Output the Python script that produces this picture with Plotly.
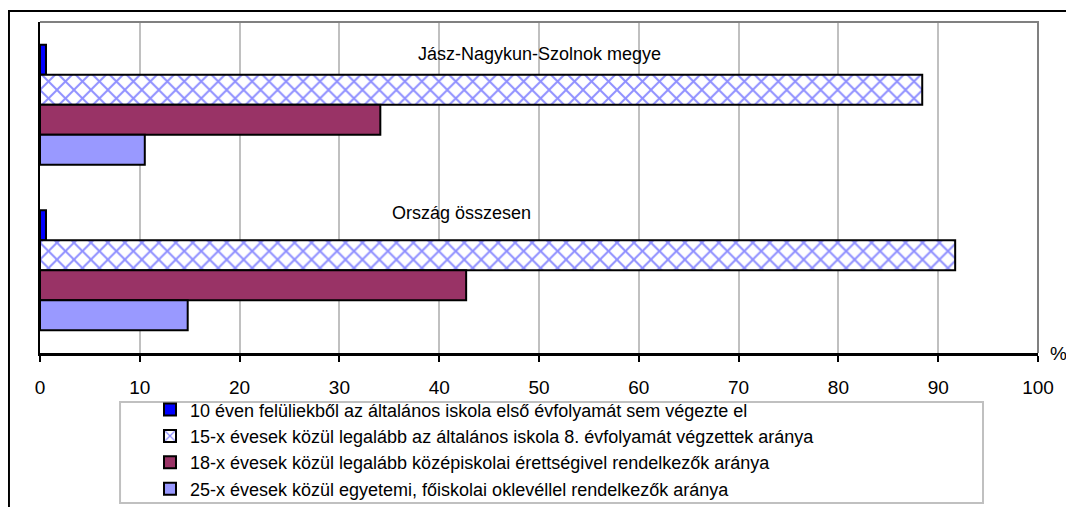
import plotly.graph_objects as go

# group labels (top to bottom)
categories = ["Jász-Nagykun-Szolnok megye", "Ország összesen"]

series_names = [
    "10 éven felüliekből az általános iskola első évfolyamát sem végezte el",
    "15-x évesek közül legalább az általános iskola 8. évfolyamát végzettek aránya",
    "18-x évesek közül legalább középiskolai érettségivel rendelkezők aránya",
    "25-x évesek közül egyetemi, főiskolai oklevéllel rendelkezők aránya",
]

first_grade_missing = [0.6, 0.6]
eighth_grade_done = [88.4, 91.7]
matura = [34.1, 42.7]
degree = [10.5, 14.8]

x_ticks = [0, 10, 20, 30, 40, 50, 60, 70, 80, 90, 100]

FONT = "Liberation Sans, Arial, sans-serif"

fig = go.Figure()

outline = dict(color="black", width=2)

fig.add_trace(go.Bar(
    y=categories, x=first_grade_missing, orientation="h", name=series_names[0],
    marker=dict(color="#0000FF", line=outline),
))
fig.add_trace(go.Bar(
    y=categories, x=eighth_grade_done, orientation="h", name=series_names[1],
    marker=dict(color="white", line=outline,
                pattern=dict(shape="x", fgcolor="#1F1FFF", bgcolor="white",
                             size=12, solidity=0.3)),
))
fig.add_trace(go.Bar(
    y=categories, x=matura, orientation="h", name=series_names[2],
    marker=dict(color="#993366", line=outline),
))
fig.add_trace(go.Bar(
    y=categories, x=degree, orientation="h", name=series_names[3],
    marker=dict(color="#9999FF", line=outline),
))

# group captions placed inside the plot area
label_pos = [(50.0, 0.94), (42.2, 0.423)]
for cat, (lx, ly) in zip(categories, label_pos):
    fig.add_annotation(x=lx, y=ly, xref="x", yref="paper", text=cat,
                       showarrow=False, font=dict(size=18, color="black"))

fig.add_annotation(x=1.01, y=0.0, xref="paper", yref="paper", text="%",
                   xanchor="left", yanchor="middle", showarrow=False,
                   font=dict(size=19, color="black"))

# outer chart frame (only top and left edges are in view)
fig.add_shape(type="path", xref="paper", yref="paper",
              path="M -0.0311 -0.6 L -0.0311 1.0332 L 1.2 1.0332",
              line=dict(color="black", width=2))
# plot area border top/right
fig.add_shape(type="path", xref="paper", yref="paper",
              path="M 0 1 L 1 1 L 1 0",
              line=dict(color="#808080", width=2))
# legend frame
fig.add_shape(type="rect", xref="paper", yref="paper",
              x0=0.0802, x1=0.9449, y0=-0.453, y1=-0.148,
              line=dict(color="#C0C0C0", width=2))

fig.update_layout(
    width=1066, height=499,
    margin=dict(l=32, r=36, t=14, b=154, autoexpand=False),
    paper_bgcolor="white", plot_bgcolor="white",
    font=dict(family=FONT, size=18, color="black"),
    barmode="group", bargap=0.275, bargroupgap=0,
    showlegend=True,
    legend=dict(
        x=0.1102, y=-0.291, xanchor="left", yanchor="middle",
        borderwidth=0, bgcolor="rgba(0,0,0,0)",
        traceorder="normal", font=dict(size=18),
        itemwidth=30, tracegroupgap=0,
    ),
    xaxis=dict(
        range=[0, 100], tickvals=x_ticks, ticks="outside", ticklen=6,
        tickwidth=2, tickcolor="black", showline=True, linecolor="black",
        linewidth=3, showgrid=True, gridcolor="#C0C0C0", gridwidth=2,
        zeroline=False, tickfont=dict(size=19), ticklabelstandoff=9,
    ),
    yaxis=dict(
        autorange="reversed", showticklabels=False, ticks="",
        showline=True, linecolor="black", linewidth=2, showgrid=False,
    ),
)

fig.write_html("out.html")
